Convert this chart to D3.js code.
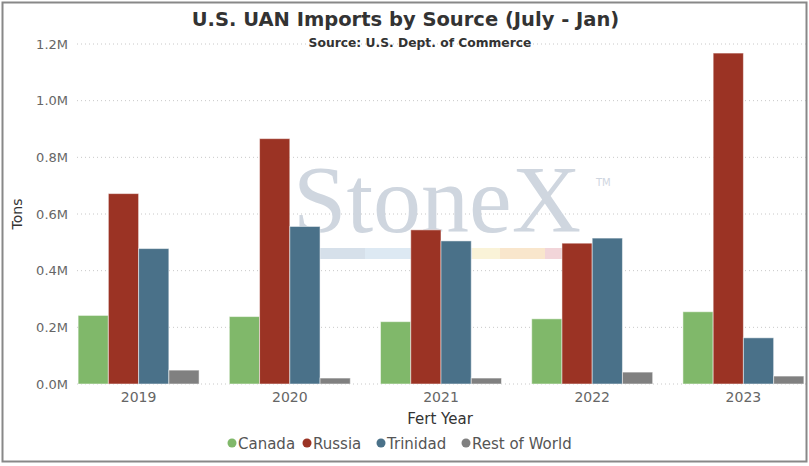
<!DOCTYPE html>
<html><head><meta charset="utf-8">
<script src="https://cdn.jsdelivr.net/npm/d3@7"></script>
<style>body{margin:0;background:#fff}svg{display:block}</style>
</head><body><svg id="c" width="809" height="466"></svg>
<script>
const years = ["2019","2020","2021","2022","2023"];
const seriesNames = ["Canada","Russia","Trinidad","Rest of World"];
const canada   = [242000, 238000, 220000, 230000, 255000];
const russia   = [672000, 866000, 544000, 497000, 1168000];
const trinidad = [478000, 556000, 505000, 515000, 163000];
const restOfWorld = [49000, 21000, 21000, 42000, 28000];
const yTicks = [0, 200000, 400000, 600000, 800000, 1000000, 1200000];
const colors = ["#80b86a","#9b3324","#4a7189","#808080"];
const values = [canada, russia, trinidad, restOfWorld];

const svg = d3.select("#c");
const x = d3.scaleBand().domain(years).range([63, 819]).paddingInner(0.2).paddingOuter(0.1);
const xs = d3.scaleBand().domain(seriesNames).range([0, x.bandwidth()]);
const y = d3.scaleLinear().domain([0, 1200000]).range([384, 44]);

// gridlines
svg.append("g").selectAll("line").data(yTicks).join("line")
  .attr("x1", 77).attr("x2", 806)
  .attr("y1", d => y(d)).attr("y2", d => y(d))
  .attr("stroke", "#c8c8c8").attr("stroke-dasharray", "1,3");

// watermark
const wm = svg.append("g");
const strip = [[320,365,"#d6e0ea"],[365,412,"#dde9f3"],[412,472,"#e8eef4"],[472,500,"#faf3d8"],[500,545,"#f9e6cc"],[545,565,"#f2d5d9"]];
wm.selectAll("rect").data(strip).join("rect")
  .attr("x", d => d[0]).attr("width", d => d[1]-d[0]).attr("y", 248).attr("height", 11).attr("fill", d => d[2]);
wm.append("text").attr("x", 437).attr("y", 232).attr("text-anchor","middle")
  .attr("font-family","Liberation Serif, serif").attr("font-size", 96).attr("fill","#cfd6df").text("StoneX");
wm.append("text").attr("x", 596).attr("y", 186)
  .attr("font-family","DejaVu Sans").attr("font-size", 10).attr("fill","#cfd6df").text("TM");

// bars
const g = svg.append("g");
years.forEach((yr, i) => {
  seriesNames.forEach((s, j) => {
    const v = values[j][i];
    g.append("rect")
      .attr("x", x(yr) + xs(s)).attr("width", xs.bandwidth())
      .attr("y", y(v)).attr("height", y(0) - y(v))
      .attr("fill", colors[j]).attr("stroke", "rgba(255,255,255,0.5)").attr("stroke-width", 1);
  });
});

// y axis labels
const ya = svg.append("g").attr("transform","translate(68,0)")
  .call(d3.axisLeft(y).tickValues(yTicks).tickSize(0).tickPadding(0).tickFormat(d => (d/1e6).toFixed(1) + "M"));
ya.select(".domain").remove();
ya.selectAll("text").attr("font-family","DejaVu Sans, Verdana").attr("font-size",13).attr("fill","#666");

// x axis labels
const xa = svg.append("g").attr("transform","translate(0,389)")
  .call(d3.axisBottom(x).tickSize(0).tickPadding(3));
xa.select(".domain").remove();
xa.selectAll("text").attr("font-family","DejaVu Sans, Verdana").attr("font-size",14).attr("fill","#666");

// titles
svg.append("text").attr("x",405.5).attr("y",26).attr("text-anchor","middle")
  .attr("font-family","DejaVu Sans, Verdana").attr("font-weight","bold").attr("font-size",19.5).attr("fill","#333")
  .text("U.S. UAN Imports by Source (July - Jan)");
svg.append("text").attr("x",420).attr("y",47).attr("text-anchor","middle")
  .attr("font-family","DejaVu Sans, Verdana").attr("font-weight","bold").attr("font-size",12.3).attr("fill","#333")
  .text("Source: U.S. Dept. of Commerce");
svg.append("text").attr("transform","translate(22,214) rotate(-90)").attr("text-anchor","middle")
  .attr("font-family","DejaVu Sans, Verdana").attr("font-size",14).attr("fill","#333").text("Tons");
svg.append("text").attr("x",440).attr("y",424).attr("text-anchor","middle")
  .attr("font-family","DejaVu Sans, Verdana").attr("font-size",15).attr("fill","#333").text("Fert Year");

// legend
const legX = [232, 307, 381, 466];
const lg = svg.append("g");
seriesNames.forEach((s, j) => {
  lg.append("circle").attr("cx", legX[j]).attr("cy", 443).attr("r", 4.5).attr("fill", colors[j]);
  lg.append("text").attr("x", legX[j] + 6).attr("y", 449)
    .attr("font-family","DejaVu Sans, Verdana").attr("font-size",15).attr("fill","#555").text(s);
});

// border
svg.append("rect").attr("x",2.5).attr("y",2.5).attr("width",804).attr("height",459)
  .attr("fill","none").attr("stroke","#888").attr("stroke-width",2);
</script></body></html>
